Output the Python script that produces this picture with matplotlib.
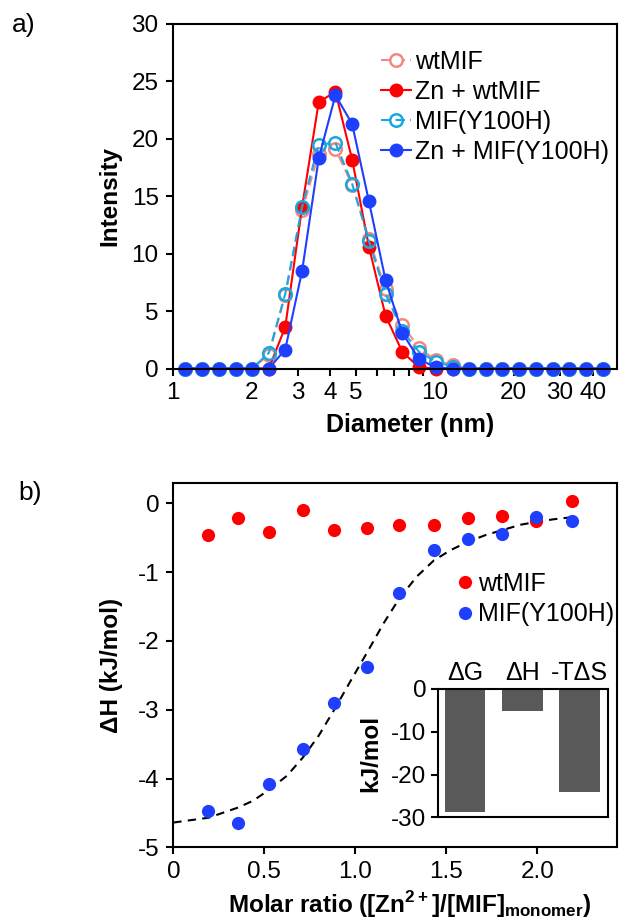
import numpy as np
import matplotlib
matplotlib.use('Agg')
import matplotlib.pyplot as plt
from matplotlib.ticker import FixedLocator, FixedFormatter, NullFormatter

plt.rcParams['font.family'] = ['Liberation Sans', 'DejaVu Sans']
plt.rcParams['axes.unicode_minus'] = False
plt.rcParams['mathtext.fontset'] = 'custom'
plt.rcParams['mathtext.rm'] = 'Liberation Sans'
plt.rcParams['mathtext.bf'] = 'Liberation Sans:bold'

# a) DLS size distribution
diameter = [1.12, 1.30, 1.50, 1.74, 2.01, 2.33, 2.69, 3.12, 3.61, 4.18, 4.84, 5.61, 6.49,
            7.52, 8.71, 10.1, 11.7, 13.5, 15.7, 18.1, 21.0, 24.3, 28.2, 32.6, 37.7, 43.7]
wt =      [0, 0, 0, 0, 0, 1.2, 6.4, 13.8, 18.7, 19.1, 16.0, 11.3, 6.9, 3.8, 1.8, 0.7, 0.3,
           0, 0, 0, 0, 0, 0, 0, 0, 0]
zn_wt =   [0, 0, 0, 0, 0, 0, 3.6, 14.1, 23.2, 24.1, 18.2, 10.6, 4.6, 1.45, 0.1, 0, 0,
           0, 0, 0, 0, 0, 0, 0, 0, 0]
y100h =   [0, 0, 0, 0, 0, 1.36, 6.5, 14.1, 19.5, 19.65, 16.1, 11.1, 6.5, 3.3, 1.45, 0.6, 0.15,
           0, 0, 0, 0, 0, 0, 0, 0, 0]
zn_y100h = [0, 0, 0, 0, 0, 0, 1.65, 8.5, 18.3, 23.8, 21.3, 14.55, 7.7, 3.1, 0.8, 0.1, 0,
            0, 0, 0, 0, 0, 0, 0, 0, 0]

# b) ITC titration
ratio = [0.193, 0.358, 0.528, 0.710, 0.884, 1.064, 1.242, 1.431, 1.617, 1.806, 1.994, 2.193]
dh_wt = [-0.46, -0.21, -0.41, -0.10, -0.39, -0.36, -0.32, -0.32, -0.21, -0.18, -0.26, 0.04]
dh_y100h = [-4.47, -4.65, -4.08, -3.57, -2.90, -2.38, -1.30, -0.68, -0.52, -0.44, -0.20, -0.26]
fit_x = [0.0, 0.110, 0.193, 0.358, 0.440, 0.528, 0.624, 0.710, 0.798, 0.884, 0.972, 1.064,
         1.156, 1.242, 1.339, 1.431, 1.523, 1.617, 1.716, 1.806, 1.908, 1.994, 2.092, 2.193]
fit_y = [-4.64, -4.60, -4.57, -4.42, -4.32, -4.16, -3.96, -3.70, -3.38, -3.00, -2.59, -2.17,
         -1.74, -1.38, -1.06, -0.83, -0.68, -0.56, -0.46, -0.39, -0.31, -0.27, -0.23, -0.20]

# inset thermodynamics
thermo_labels = ['ΔG', 'ΔH', '-TΔS']
thermo_vals = [-28.7, -5.1, -24.0]

fig = plt.figure(figsize=(6.19, 9.19), dpi=100)

ax1 = fig.add_axes([0.2787, 0.599, 0.718, 0.3749])
ax1.plot(diameter, wt, color='#F08A80', ls='--', lw=1.5, marker='o', ms=9,
         mfc='white', mec='#F08A80', mew=1.8, label='wtMIF', clip_on=False, dashes=(4.5, 2.5))
ax1.plot(diameter, zn_wt, color='#FF0000', lw=1.5, marker='o', ms=9,
         label='Zn + wtMIF', clip_on=False)
ax1.plot(diameter, y100h, color='#1AA7E0', ls='--', lw=1.5, marker='o', ms=9,
         mfc='none', mec='#1AA7E0', mew=1.8, label='MIF(Y100H)', clip_on=False, dashes=(4.5, 2.5))
ax1.plot(diameter, zn_y100h, color='#1F3FFF', lw=1.5, marker='o', ms=9,
         label='Zn + MIF(Y100H)', clip_on=False)
ax1.set_xscale('log')
ax1.set_xlim(1, 49.5)
ax1.set_ylim(0, 30)
ax1.set_yticks([0, 5, 10, 15, 20, 25, 30])
ax1.xaxis.set_major_locator(FixedLocator([1, 2, 3, 4, 5, 10, 20, 30, 40]))
ax1.xaxis.set_major_formatter(FixedFormatter(['1', '2', '3', '4', '5', '10', '20', '30', '40']))
ax1.xaxis.set_minor_locator(FixedLocator([6, 7, 8, 9]))
ax1.xaxis.set_minor_formatter(NullFormatter())
ax1.tick_params(axis='both', which='both', direction='out', length=5, width=1.5, labelsize=17.5, pad=5)
ax1.set_xlabel('Diameter (nm)', fontsize=18, fontweight='bold')
ax1.xaxis.set_label_coords(0.534, -0.128)
ax1.set_ylabel('Intensity', fontsize=17.5, fontweight='bold')
ax1.yaxis.set_label_coords(-0.114, 0.5)
for s in ax1.spines.values():
    s.set_linewidth(1.5)
ax1.legend(loc='upper left', bbox_to_anchor=(0.47, 0.925), frameon=False, fontsize=18,
           handlelength=1.2, handletextpad=0.15, labelspacing=0.24, borderpad=0, borderaxespad=0)

ax2 = fig.add_axes([0.280, 0.078, 0.7175, 0.3967])
ax2.plot(fit_x, fit_y, color='black', ls='--', lw=1.5, dashes=(4, 3))
ax2.plot(ratio, dh_wt, ls='none', marker='o', ms=9.5, color='#FF0000', mec='none', label='wtMIF')
ax2.plot(ratio, dh_y100h, ls='none', marker='o', ms=9.5, color='#1F3FFF', mec='none', label='MIF(Y100H)')
ax2.set_xlim(0, 2.44)
ax2.set_ylim(-5, 0.3)
ax2.set_xticks([0, 0.5, 1.0, 1.5, 2.0])
ax2.set_xticklabels(['0', '0.5', '1.0', '1.5', '2.0'])
ax2.set_yticks([0, -1, -2, -3, -4, -5])
ax2.tick_params(axis='both', direction='out', length=5, width=1.5, labelsize=17.5, pad=5)
ax2.set_xlabel(r'Molar ratio ([Zn$^{\mathbf{2+}}$]/[MIF]$_{\mathbf{monomer}}$)',
               fontsize=17.5, fontweight='bold')
ax2.xaxis.set_label_coords(0.533, -0.115)
ax2.set_ylabel('ΔH (kJ/mol)', fontsize=17.5, fontweight='bold')
ax2.yaxis.set_label_coords(-0.113, 0.5)
for s in ax2.spines.values():
    s.set_linewidth(1.5)
ax2.legend(loc='upper left', bbox_to_anchor=(0.64, 0.755), frameon=False, fontsize=18,
           handlelength=0.6, handletextpad=0.2, labelspacing=0.25, borderpad=0, borderaxespad=0)

ax3 = fig.add_axes([0.7071, 0.1107, 0.2751, 0.1396])
ax3.bar(range(3), thermo_vals, width=0.71, color='#595959')
ax3.set_xlim(-0.48, 2.5)
ax3.set_ylim(-30, 0)
ax3.set_yticks([0, -10, -20, -30])
ax3.xaxis.tick_top()
ax3.set_xticks(range(3))
ax3.set_xticklabels(thermo_labels)
ax3.tick_params(axis='x', length=0, labelsize=18, pad=3)
ax3.tick_params(axis='y', direction='out', length=5, width=1.5, labelsize=17.5, pad=3)
ax3.set_ylabel('kJ/mol', fontsize=17.5, fontweight='bold')
ax3.yaxis.set_label_coords(-0.327, 0.5)
for s in ax3.spines.values():
    s.set_linewidth(1.5)

fig.text(12 / 619, 1 - 13 / 919, 'a)', fontsize=19, va='top', ha='left')
fig.text(18 / 619, 1 - 481 / 919, 'b)', fontsize=19, va='top', ha='left')

fig.savefig('out.png', dpi=100)
